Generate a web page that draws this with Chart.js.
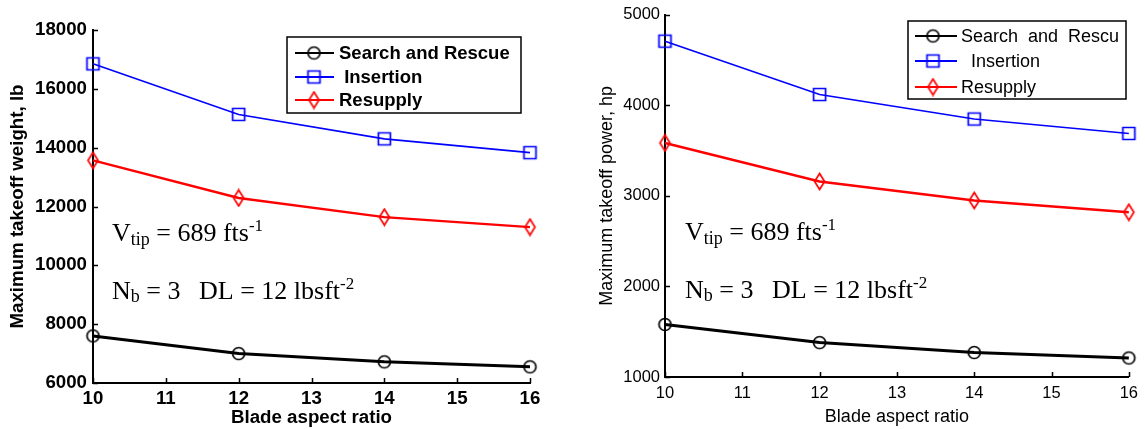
<!DOCTYPE html>
<html>
<head>
<meta charset="utf-8">
<script src="https://cdn.jsdelivr.net/npm/chart.js@4.4.0/dist/chart.umd.min.js"></script>
<style>
  body { margin: 0; background: #fff; }
  #page { position: relative; width: 1145px; height: 429px; overflow: hidden; }
  #page canvas { position: absolute; top: 0; }
</style>
</head>
<body>
<div id="page">
  <canvas id="weightChart" width="575" height="429" style="left:0"></canvas>
  <canvas id="powerChart" width="570" height="429" style="left:575px"></canvas>
</div>
<script>
// blade aspect ratio sweep
const aspectRatio = [10, 12, 14, 16];
const missionNames = ["Search and Rescue", " Insertion", "Resupply"];

// maximum takeoff weight, lb
const weightSearchRescue = [7600, 7000, 6720, 6550];
const weightInsertion = [16850, 15130, 14300, 13830];
const weightResupply = [13570, 12290, 11640, 11300];

// maximum takeoff power, hp
const powerSearchRescue = [1580, 1380, 1270, 1210];
const powerInsertion = [4710, 4120, 3850, 3690];
const powerResupply = [3585, 3160, 2950, 2820];

const weightTicks = { min: 6000, max: 18000, step: 2000 };
const powerTicks = { min: 1000, max: 5000, step: 1000 };

const SANS = '"Liberation Sans", Arial, Helvetica, sans-serif';
const SERIF = '"Liberation Serif", "Times New Roman", serif';

// matlab-style hollow markers, drawn once and reused as point styles
function makeMarker(shape, color) {
  const c = document.createElement("canvas");
  c.width = 17;
  c.height = 19;
  const g = c.getContext("2d");
  g.strokeStyle = color;
  g.lineWidth = 1.7;
  g.beginPath();
  if (shape === "circle") {
    g.arc(8.5, 9.5, 6, 0, Math.PI * 2);
  } else if (shape === "square") {
    g.rect(2.5, 3.5, 12, 12);
  } else {
    g.moveTo(8.5, 1.5);
    g.lineTo(13.5, 9.5);
    g.lineTo(8.5, 17.5);
    g.lineTo(3.5, 9.5);
    g.closePath();
  }
  g.stroke();
  return c;
}

const markers = {
  black: makeMarker("circle", "#000"),
  blue: makeMarker("square", "#0000ff"),
  red: makeMarker("diamond", "#ff0000"),
};

function series(label, values, color, marker, width) {
  return {
    label,
    data: aspectRatio.map((x, i) => ({ x, y: values[i] })),
    borderColor: color,
    backgroundColor: color,
    borderWidth: width,
    pointStyle: marker,
    pointRadius: 6,
    tension: 0,
    fill: false,
    clip: false,
  };
}

// short ticks pointing into the plot, as matlab draws them
const inwardTicks = {
  id: "inwardTicks",
  afterDatasetsDraw(chart) {
    const { ctx, chartArea, scales } = chart;
    ctx.save();
    ctx.strokeStyle = "#000";
    ctx.lineWidth = 1.5;
    ctx.beginPath();
    scales.x.ticks.forEach(t => {
      const px = Math.round(scales.x.getPixelForValue(t.value)) + 0.5;
      ctx.moveTo(px, chartArea.bottom);
      ctx.lineTo(px, chartArea.bottom - 5);
    });
    scales.y.ticks.forEach(t => {
      const py = Math.round(scales.y.getPixelForValue(t.value)) + 0.5;
      ctx.moveTo(chartArea.left, py);
      ctx.lineTo(chartArea.left + 5, py);
    });
    ctx.stroke();
    ctx.restore();
  },
};

// boxed legend inside the plot
const boxLegend = {
  id: "boxLegend",
  afterDraw(chart, _args, opts) {
    const { ctx } = chart;
    ctx.save();
    ctx.fillStyle = "#fff";
    ctx.fillRect(opts.left, opts.top, opts.width, opts.height);
    ctx.strokeStyle = "#000";
    ctx.lineWidth = 1.5;
    ctx.strokeRect(opts.left, opts.top, opts.width, opts.height);

    chart.data.datasets.forEach((ds, i) => {
      const y = opts.rows[i];
      ctx.strokeStyle = ds.borderColor;
      ctx.lineWidth = 1.8;
      ctx.beginPath();
      ctx.moveTo(opts.lineFrom, y);
      ctx.lineTo(opts.lineTo, y);
      ctx.stroke();
      const m = ds.pointStyle;
      ctx.drawImage(m, opts.markerX - m.width / 2, y - m.height / 2);
    });

    ctx.beginPath();
    ctx.rect(opts.left, opts.top, opts.clipRight - opts.left, opts.height);
    ctx.clip();
    ctx.fillStyle = "#000";
    ctx.font = opts.font;
    ctx.wordSpacing = opts.wordSpacing || "0px";
    ctx.textBaseline = "middle";
    chart.data.datasets.forEach((ds, i) => {
      ctx.fillText(ds.label, opts.textX, opts.rows[i] + 1);
    });
    ctx.restore();
  },
};

// rotor parameters written in the empty part of the plot
function drawRich(ctx, x, y, parts) {
  parts.forEach(([text, size, dy]) => {
    ctx.font = `${size}px ${SERIF}`;
    ctx.fillText(text, x, y + dy);
    x += ctx.measureText(text).width;
  });
}

const rotorNote = {
  id: "rotorNote",
  afterDraw(chart, _args, opts) {
    const { ctx } = chart;
    ctx.save();
    ctx.fillStyle = "#000";
    ctx.textBaseline = "alphabetic";
    drawRich(ctx, opts.x, opts.y1, [
      ["V", 26, 0], ["tip", 18, 4], [" = 689 fts", 26, 0], ["-1", 17, -10],
    ]);
    drawRich(ctx, opts.x, opts.y2, [
      ["N", 26, 0], ["b", 18, 3], [" = 3", 26, 0],
    ]);
    drawRich(ctx, opts.x + opts.dlOffset, opts.y2, [
      ["DL = 12 lbsft", 26, 0], ["-2", 17, -10],
    ]);
    ctx.restore();
  },
};

function makeChart(id, cfg) {
  const tickFont = { family: SANS, size: cfg.tickSize, weight: cfg.weight };
  const titleFont = { family: SANS, size: cfg.titleSize, weight: cfg.weight };
  return new Chart(document.getElementById(id), {
    type: "line",
    data: {
      datasets: [
        series(missionNames[0], cfg.searchRescue, "#000000", markers.black, 3),
        series(missionNames[1], cfg.insertion, "#0000ff", markers.blue, 1.6),
        series(missionNames[2], cfg.resupply, "#ff0000", markers.red, 2.4),
      ],
    },
    options: {
      responsive: false,
      animation: false,
      events: [],
      layout: { padding: cfg.padding },
      scales: {
        x: {
          type: "linear",
          min: 10,
          max: 16,
          ticks: {
            stepSize: 1,
            color: "#000",
            font: tickFont,
            padding: cfg.xTickPad,
            maxRotation: 0,
          },
          grid: { drawOnChartArea: false, drawTicks: false },
          border: { color: "#000", width: 2 },
          title: {
            display: true,
            text: "Blade aspect ratio",
            color: "#000",
            font: titleFont,
            padding: 0,
          },
          afterFit: s => { s.height = cfg.xHeight; },
        },
        y: {
          min: cfg.yTicks.min,
          max: cfg.yTicks.max,
          ticks: {
            stepSize: cfg.yTicks.step,
            color: "#000",
            font: tickFont,
            padding: cfg.yTickPad,
            callback: v => String(v),
          },
          grid: { drawOnChartArea: false, drawTicks: false },
          border: { color: "#000", width: 2 },
          title: {
            display: true,
            text: cfg.yTitle,
            color: "#000",
            font: titleFont,
            padding: 0,
          },
          afterFit: s => { s.width = cfg.yWidth; },
        },
      },
      plugins: {
        legend: { display: false },
        tooltip: { enabled: false },
        boxLegend: cfg.legend,
        rotorNote: cfg.note,
      },
    },
    plugins: [inwardTicks, boxLegend, rotorNote],
  });
}

makeChart("weightChart", {
  searchRescue: weightSearchRescue,
  insertion: weightInsertion,
  resupply: weightResupply,
  yTicks: weightTicks,
  yTitle: "Maximum takeoff weight, lb",
  weight: "bold",
  tickSize: 18.7,
  titleSize: 18.7,
  padding: { top: 30, right: 45, bottom: 0, left: 7 },
  yWidth: 86,
  xHeight: 46,
  xTickPad: 5,
  yTickPad: 6,
  legend: {
    left: 287, top: 37, width: 234, height: 76,
    rows: [53, 77, 100],
    lineFrom: 295, lineTo: 334, markerX: 314,
    textX: 339, clipRight: 521,
    font: `bold 18.5px ${SANS}`,
  },
  note: { x: 112, y1: 241, y2: 299, dlOffset: 87 },
});

makeChart("powerChart", {
  searchRescue: powerSearchRescue,
  insertion: powerInsertion,
  resupply: powerResupply,
  yTicks: powerTicks,
  yTitle: "Maximum takeoff power, hp",
  weight: "normal",
  tickSize: 16.5,
  titleSize: 18,
  padding: { top: 14, right: 15, bottom: 1, left: 21 },
  yWidth: 69,
  xHeight: 51,
  xTickPad: 7,
  yTickPad: 5,
  legend: {
    left: 333, top: 21, width: 218, height: 78,
    rows: [36, 61, 87],
    lineFrom: 340, lineTo: 382, markerX: 358,
    textX: 386, clipRight: 543,
    font: `18px ${SANS}`,
    wordSpacing: "5px",
  },
  note: { x: 110, y1: 240, y2: 298, dlOffset: 87 },
});
</script>
</body>
</html>
